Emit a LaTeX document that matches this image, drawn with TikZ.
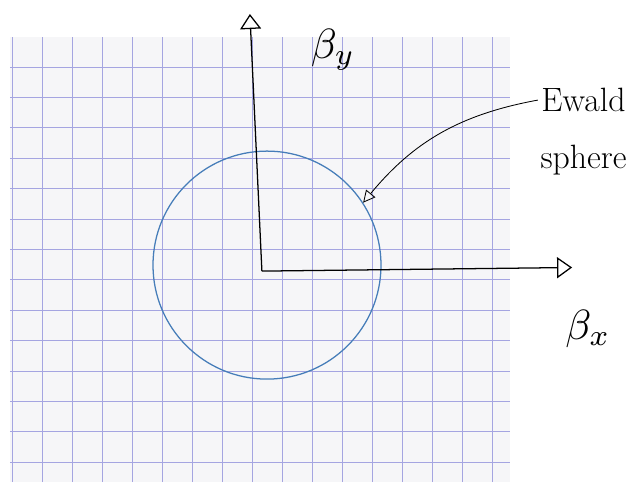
\documentclass[tikz,border=0pt]{standalone}
\usepackage{amsmath}
\usepackage{tikz}
\usetikzlibrary{arrows.meta}
\definecolor{gridblue}{RGB}{165,165,225}
\definecolor{paper}{RGB}{246,246,248}
\definecolor{sphereblue}{RGB}{70,125,185}

\begin{document}
\begin{tikzpicture}[scale=1.0, >={Triangle[open,length=5mm,width=7mm]},
    axis/.style={->, line width=1.2pt},
    handtext/.style={font=\fontsize{32}{36}\selectfont},
    betatext/.style={scale=4}]
            \useasboundingbox (0,0) rectangle (21,16.067);
            % squared paper
            \fill[paper] (0.33,0) rectangle (17.0,14.83);
            \foreach \x in {0,...,16}
                \draw[gridblue, line width=0.6pt] (0.4+\x,0) -- (0.4+\x,14.83);
            \foreach \y in {0,...,13}
                \draw[gridblue, line width=0.6pt] (0.33,0.667+1.013*\y) -- (17.0,0.667+1.013*\y);
            % Ewald sphere
            \node[circle, draw=sphereblue, line width=1.2pt, inner sep=0pt, minimum size=7.6cm] (sphere) at (8.9,7.23) {};
            % axes
            \coordinate (O) at (8.73,7.03);
            \coordinate (ytip) at (8.33,15.6);
            \coordinate (xtip) at (19.07,7.15);
            \draw[axis] (O) -- (ytip);
            \draw[axis] (O) -- (xtip);
            \node[betatext] (by) at (11.1,14.4) {$\beta_y$};
            \node[betatext] (bx) at (19.6,5.1) {$\beta_x$};
            % label
            \node[handtext] (ewald) at (19.45,12.73) {Ewald};
            \node[handtext] (sphlabel) at (19.45,10.73) {sphere};
            \draw[-{Triangle[open,length=4mm,width=4mm]}, line width=0.8pt] (ewald.west) to[bend right=20] (sphere.33);
        \end{tikzpicture}
\end{document}
